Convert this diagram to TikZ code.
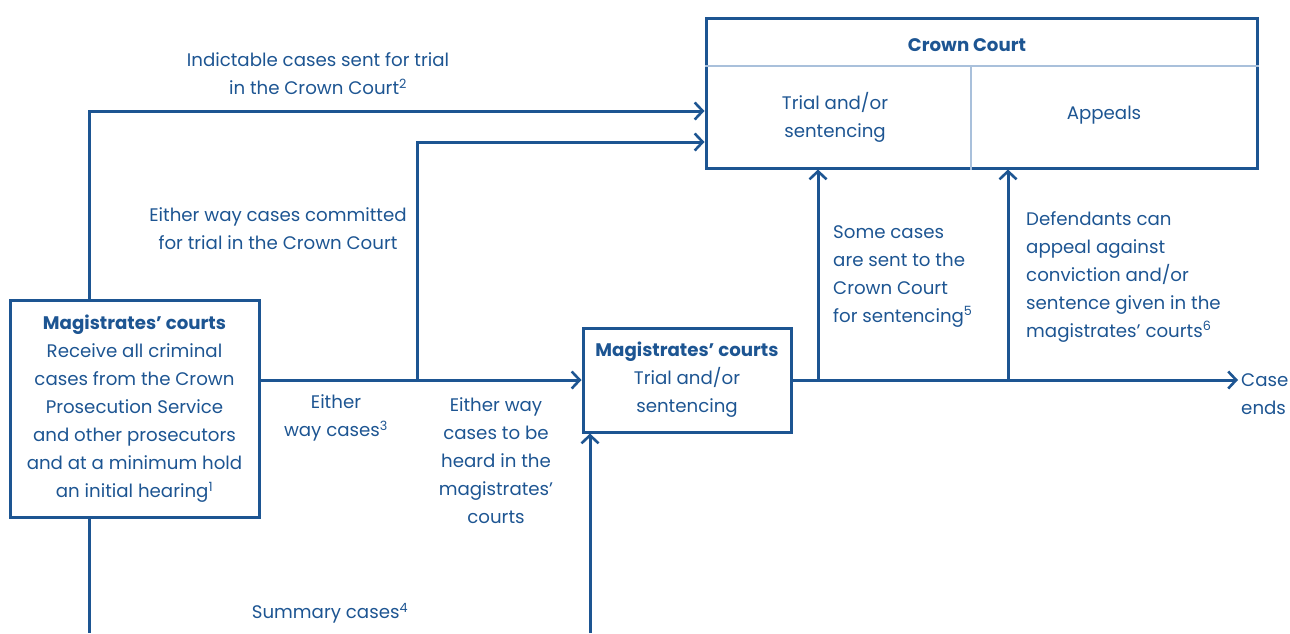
\documentclass[tikz,border=0pt]{standalone}
\usepackage{fontspec}
\setmainfont{Poppins}
\usetikzlibrary{arrows.meta,calc}
\definecolor{navy}{HTML}{1D5592}
\definecolor{paleblue}{HTML}{A9C0DB}
\begin{document}
\begin{tikzpicture}[x=1pt,y=-1pt,
  every node/.style={text=navy,font=\fontsize{18.2}{28}\selectfont,inner sep=0pt},
  courtbox/.style={draw=navy,line width=3pt,align=center},
  conn/.style={draw=navy,line width=3pt},
  arr/.style={conn,-{Straight Barb[length=8pt,width=17pt,line width=2.6pt]}},
  lbl/.style={align=center},
  lbll/.style={align=left,anchor=north west},
  divider/.style={draw=paleblue,line width=1.6pt}]
\useasboundingbox (0,0) rectangle (1290,633);

% courts
\node[courtbox,minimum width=249pt,minimum height=217pt] (left) at (134.5,409)
  {\textbf{Magistrates’ courts}\\Receive all criminal\\cases from the Crown\\Prosecution Service\\and other prosecutors\\and at a minimum hold\\an initial hearing\textsuperscript{1}};
\node[courtbox,minimum width=208pt,minimum height=104pt] (mid) at (687,380)
  {\textbf{Magistrates’ courts}\\Trial and/or\\sentencing};
\node[courtbox,minimum width=551pt,minimum height=150pt] (crown) at (981.5,93) {};
\draw[divider] (crown.west |- 0,66) -- (crown.east |- 0,66);
\draw[divider] (971,66) -- (971,0 |- crown.south);
\node (cctitle) at (967,45) {\textbf{Crown Court}};
\node[lbl] (cctrial) at (835,117) {Trial and/or\\sentencing};
\node (ccappeal) at (1104,115) {Appeals};

% case ends
\node[lbll] (ends) at (1241,373) {Case\\ends};

% junctions
\coordinate (forkA) at (417,381);
\coordinate (forkB) at (818,381);
\coordinate (forkC) at (1008,381);
\coordinate (bl) at (89,633);
\coordinate (br) at (590,633);

% connectors
\draw[arr] ([xshift=-45.5pt]left.north) |- ([yshift=-18pt]crown.west);
\draw[arr] (forkA) |- ([yshift=-49pt]crown.west);
\draw[arr] (left.east |- mid.west) -- (mid.west);
\draw[arr] (mid.east) -- ([xshift=-3pt]ends.west |- mid.east);
\draw[arr] (forkB) -- (forkB |- crown.south);
\draw[arr] (forkC) -- (forkC |- crown.south);
\draw[conn] ([xshift=-45.5pt]left.south) -- (bl);
\draw[arr] (br) -- (br |- mid.south);

% labels
\node[lbl] (l1) at (318,74) {Indictable cases sent for trial\\in the Crown Court\textsuperscript{2}};
\node[lbl] (l2) at (278,229) {Either way cases committed\\for trial in the Crown Court};
\node[lbl] (l3) at (336,418) {Either\\way cases\textsuperscript{3}};
\node[lbl] (l4) at (496,461) {Either way\\cases to be\\heard in the\\magistrates’\\courts};
\node[lbll] (l5) at (833,225) {Some cases\\are sent to the\\Crown Court\\for sentencing\textsuperscript{5}};
\node[lbll] (l6) at (1026,211) {Defendants can\\appeal against\\conviction and/or\\sentence given in the\\magistrates' courts\textsuperscript{6}};
\node[lbl] (l7) at (330,613) {Summary cases\textsuperscript{4}};
\end{tikzpicture}
\end{document}
